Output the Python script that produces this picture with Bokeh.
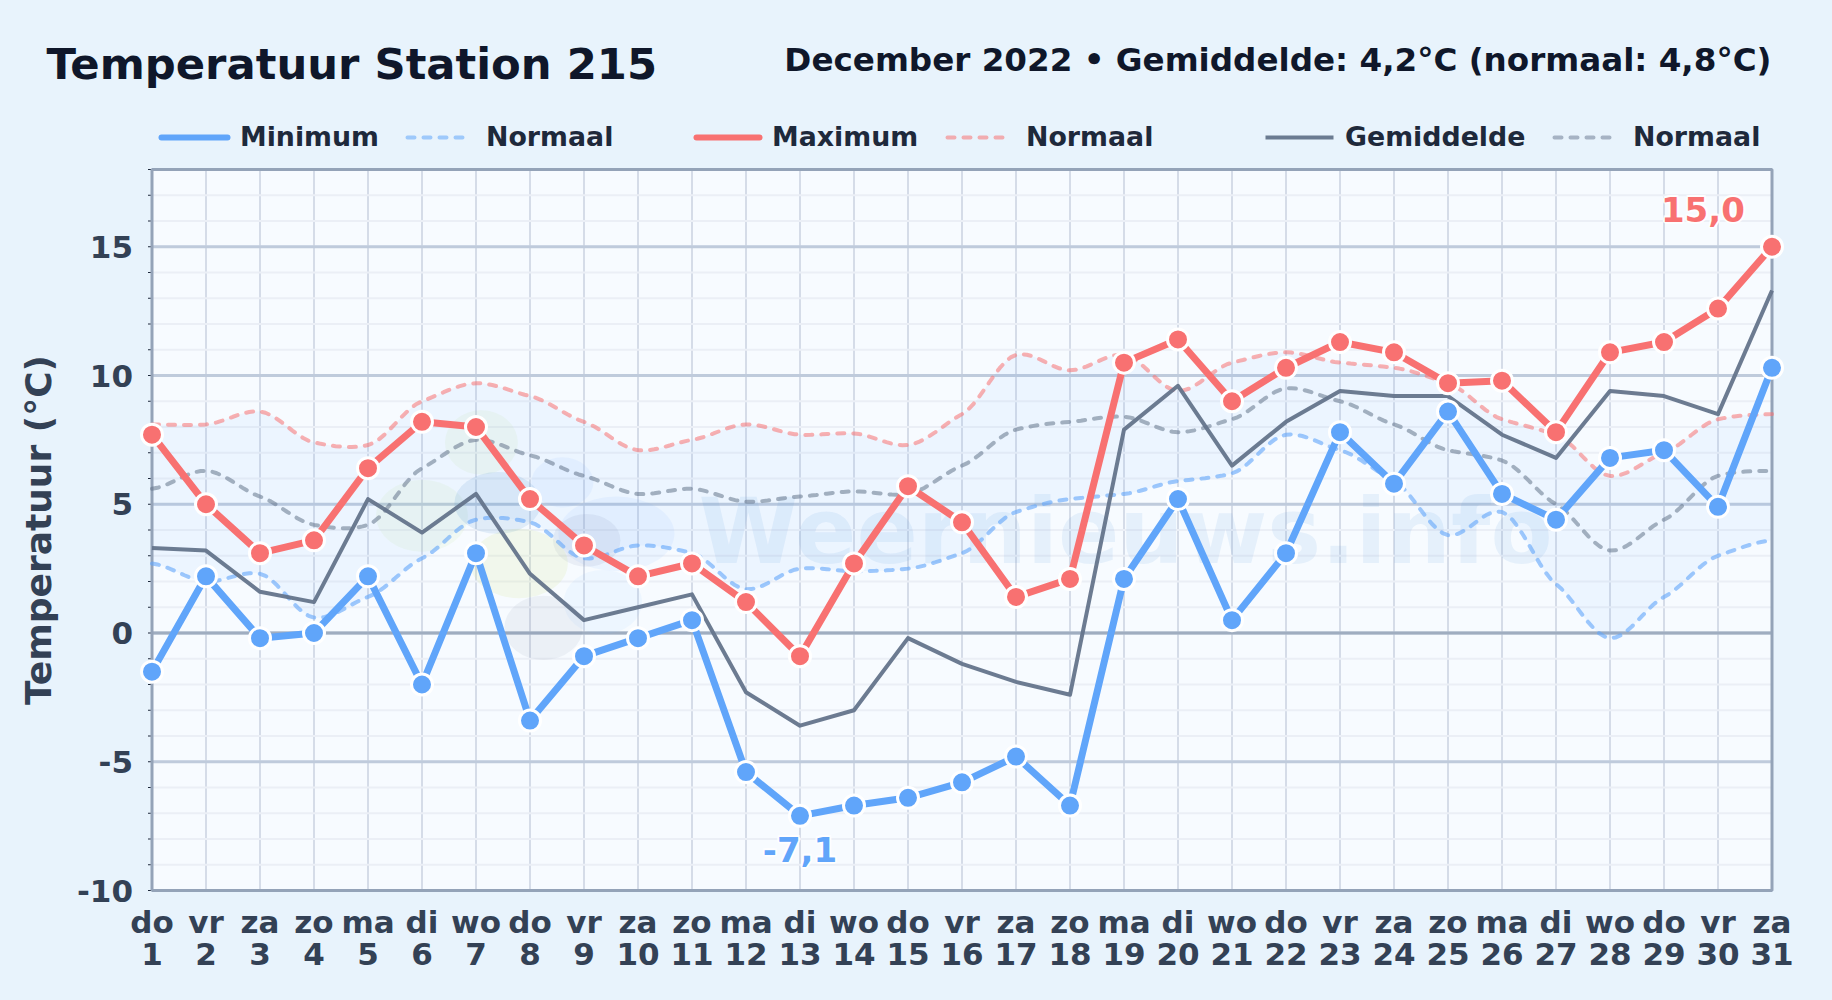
import numpy as np
from bokeh.core.properties import value
from bokeh.models import FixedTicker, LinearAxis, Range1d
from bokeh.plotting import figure
from bokeh.embed import file_html
from bokeh.resources import INLINE

days = list(range(1, 32))
weekdays = ["do","vr","za","zo","ma","di","wo","do","vr","za","zo","ma","di","wo","do","vr","za","zo","ma","di","wo","do","vr","za","zo","ma","di","wo","do","vr","za"]
t_min = [-1.5,2.2,-0.2,0.0,2.2,-2.0,3.1,-3.4,-0.9,-0.2,0.5,-5.4,-7.1,-6.7,-6.4,-5.8,-4.8,-6.7,2.1,5.2,0.5,3.1,7.8,5.8,8.6,5.4,4.4,6.8,7.1,4.9,10.3]
t_max = [7.7,5.0,3.1,3.6,6.4,8.2,8.0,5.2,3.4,2.2,2.7,1.2,-0.9,2.7,5.7,4.3,1.4,2.1,10.5,11.4,9.0,10.3,11.3,10.9,9.7,9.8,7.8,10.9,11.3,12.6,15.0]
t_avg = [3.3,3.2,1.6,1.2,5.2,3.9,5.4,2.3,0.5,1.0,1.5,-2.3,-3.6,-3.0,-0.2,-1.2,-1.9,-2.4,7.9,9.6,6.5,8.2,9.4,9.2,9.2,7.7,6.8,9.4,9.2,8.5,13.3]
n_max = [8.1,8.1,8.6,7.4,7.3,9.0,9.7,9.2,8.2,7.1,7.5,8.1,7.7,7.75,7.3,8.5,10.8,10.2,10.8,9.4,10.5,10.9,10.5,10.3,9.7,8.3,7.7,6.1,7.0,8.3,8.5]
n_avg = [5.6,6.3,5.3,4.2,4.2,6.4,7.5,6.9,6.1,5.4,5.6,5.1,5.3,5.5,5.4,6.5,7.9,8.2,8.4,7.8,8.3,9.5,9.0,8.1,7.1,6.7,5.0,3.2,4.4,6.1,6.3]
n_min = [2.7,2.0,2.3,0.6,1.4,2.9,4.4,4.3,2.9,3.4,3.1,1.7,2.5,2.4,2.5,3.1,4.7,5.2,5.4,5.9,6.2,7.7,7.1,5.9,3.8,4.7,1.9,-0.2,1.4,3.0,3.6]
y_major = [-10,-5,0,5,10,15]
y_minor = list(range(-10, 19))

W, H = 1832, 1000
BG = "#e8f3fc"
FONT = "DejaVu Sans"
C_MIN, C_MAX, C_AVG = "#60a5fa", "#f87171", "#64748b"
X0, X1, Y0, Y1 = 1, 31, -10, 18
PX_LEFT, PX_BOTTOM, PX_PER_DAY, PX_PER_DEG = 151.5, 890, 54, 25.75


def data_x(px):
    return X0 + (px - PX_LEFT) / PX_PER_DAY


def data_y(py):
    return Y0 + (PX_BOTTOM - py) / PX_PER_DEG


def smooth(x, y, n=10, k=0.32):
    """Rendering path of a curved line through the values that were read."""
    x = np.asarray(x, float); y = np.asarray(y, float)
    m = np.array([k * (y[min(i+1, len(y)-1)] - y[max(i-1, 0)]) for i in range(len(y))])
    ox, oy = [], []
    for i in range(len(x) - 1):
        for t in np.linspace(0, 1, n, endpoint=False):
            h00 = 2*t**3 - 3*t**2 + 1; h10 = t**3 - 2*t**2 + t
            h01 = -2*t**3 + 3*t**2;    h11 = t**3 - t**2
            ox.append(x[i] + t)
            oy.append(h00*y[i] + h10*m[i] + h01*y[i+1] + h11*m[i+1])
    ox.append(x[-1]); oy.append(y[-1])
    return np.array(ox), np.array(oy)


# The frame fills the page, so header and axis texts are not clipped by it.
p = figure(width=W, height=H, output_backend="svg", toolbar_location=None,
           x_range=Range1d(data_x(0), data_x(W)), y_range=Range1d(data_y(H), data_y(0)),
           min_border=0, min_border_left=0, min_border_right=0, min_border_top=0, min_border_bottom=0,
           background_fill_color=BG, border_fill_color=BG, outline_line_color=None)
p.grid.visible = False

# weekday and day-number axes, tied to the bottom of the plot body
p.xaxis.ticker = FixedTicker(ticks=days)
p.xaxis.major_label_overrides = {d: w for d, w in zip(days, weekdays)}
p.xaxis.fixed_location = Y0
ax2 = LinearAxis(ticker=FixedTicker(ticks=days), major_label_overrides={d: str(d) for d in days}, fixed_location=Y0)
p.add_layout(ax2, "below")
p.yaxis.ticker = FixedTicker(ticks=y_major)
p.yaxis.major_label_overrides = {v: str(v) for v in y_major}
p.yaxis.fixed_location = X0
for ax in (p.xaxis[0], ax2, p.yaxis[0]):
    ax.major_label_text_font = FONT
    ax.major_label_text_font_style = "bold"
    ax.major_label_text_font_size = "31px"
    ax.major_label_text_color = "#334155"
    ax.axis_line_color = None
    ax.major_tick_line_color = None
    ax.minor_tick_line_color = None
p.xaxis[0].major_label_standoff = 7
ax2.major_label_standoff = 46
p.yaxis.major_label_standoff = 13

# y-axis title, centred on the plot body
p.text([data_x(38)], [(Y0 + Y1) / 2], text=["Temperatuur (°C)"], angle=np.pi / 2, text_font=value(FONT),
       text_font_style="bold", text_font_size="36px", text_color="#334155", text_align="center",
       text_baseline="middle")

# plot body and its grid, limited to the day range
p.quad(left=[X0], right=[X1], bottom=[Y0], top=[Y1], fill_color="#f7fbff", line_color=None, level="image")
p.segment(x0=days, y0=[Y0]*31, x1=days, y1=[Y1]*31, line_color="#d5dce8", line_width=2, level="underlay")
p.segment(x0=[X0]*len(y_minor), y0=y_minor, x1=[X1]*len(y_minor), y1=y_minor,
          line_color="#ebeff6", line_width=2, level="underlay")
p.segment(x0=[X0]*len(y_major), y0=y_major, x1=[X1]*len(y_major), y1=y_major,
          line_color="#bfcbdc", line_width=3, level="underlay")
p.segment(x0=[X0], y0=[0], x1=[X1], y1=[0], line_color="#9fadc0", line_width=3, level="underlay")
p.segment(x0=[X0 - 4/54]*len(y_minor), y0=y_minor, x1=[X0]*len(y_minor), y1=y_minor,
          line_color="#1e293b", line_width=1.2, level="underlay")

# watermark logo and name
wm_x = [7.1, 6.0, 7.4, 8.6, 9.6, 9.05, 7.8, 9.35, 8.25]
wm_y = [7.4, 4.55, 5.05, 5.85, 3.85, 3.6, 2.7, 1.2, 0.2]
wm_w = [1.35, 1.7, 1.6, 1.15, 2.15, 1.25, 1.8, 1.45, 1.45]
wm_h = [2.5, 2.8, 2.4, 1.95, 2.9, 2.05, 2.7, 2.5, 2.5]
wm_c = ["#bfe08a","#bfe08a","#3b82c4","#60a5fa","#60a5fa","#475f8f","#cfe67a","#7cc4fa","#64748b"]
wm_a = [0.10, 0.10, 0.12, 0.08, 0.08, 0.08, 0.14, 0.08, 0.08]
p.ellipse(wm_x, wm_y, width=wm_w, height=wm_h, fill_color=wm_c, fill_alpha=wm_a, line_color=None)
p.text([data_x(698)], [data_y(531)], text=["Weernieuws.info"], text_font=value(FONT), text_font_style="bold",
       text_font_size="90.5px", text_color="#4a90d9", text_alpha=0.10, text_baseline="alphabetic")

# band between the normals
sx, s_nmax = smooth(days, n_max)
_, s_nmin = smooth(days, n_min)
_, s_navg = smooth(days, n_avg)
p.varea(sx, s_nmin, s_nmax, fill_color=C_MIN, fill_alpha=0.07)

# frame of the plot body
p.quad(left=[X0], right=[X1], bottom=[Y0], top=[Y1], fill_alpha=0, line_color="#94a3b8", line_width=3)

# lines and markers
p.line(sx, s_nmin, line_color=C_MIN, line_alpha=0.6, line_width=4, line_dash="7 9", line_cap="round")
p.line(sx, s_nmax, line_color=C_MAX, line_alpha=0.55, line_width=4, line_dash="7 9", line_cap="round")
p.line(sx, s_navg, line_color=C_AVG, line_alpha=0.55, line_width=4, line_dash="7 9", line_cap="round")
p.line(days, t_avg, line_color=C_AVG, line_alpha=0.95, line_width=4, line_join="round")
p.line(days, t_min, line_color=C_MIN, line_width=7, line_cap="round", line_join="round")
p.line(days, t_max, line_color=C_MAX, line_width=7, line_cap="round", line_join="round")
p.scatter(days, t_min, size=21, fill_color=C_MIN, line_color="white", line_width=3)
p.scatter(days, t_max, size=21, fill_color=C_MAX, line_color="white", line_width=3)


# extreme labels, with a white halo
def halo_text(x, y, txt, color):
    kw = dict(text_font=value(FONT), text_font_style="bold", text_font_size="34px",
              text_align="center", text_baseline="middle")
    for dx, dy in [(-2,0),(2,0),(0,-2),(0,2),(-1.5,-1.5),(1.5,1.5),(-1.5,1.5),(1.5,-1.5)]:
        p.text([x], [y], text=[txt], text_color="white", text_alpha=0.8, x_offset=dx, y_offset=dy, **kw)
    p.text([x], [y], text=[txt], text_color=color, **kw)


i_hi = int(np.argmax(t_max)); i_lo = int(np.argmin(t_min))
halo_text(days[i_hi] - 1.28, t_max[i_hi] + 1.45, "15,0", C_MAX)
halo_text(days[i_lo], t_min[i_lo] - 1.3, "-7,1", C_MIN)

# header: title, subtitle, legend
p.text([data_x(46)], [data_y(63.5)], text=["Temperatuur Station 215"], text_font=value(FONT), text_font_style="bold",
       text_font_size="43.3px", text_color="#0f172a", text_baseline="alphabetic")
p.text([data_x(1771)], [data_y(59.5)], text=["December 2022 • Gemiddelde: 4,2°C (normaal: 4,8°C)"], text_font=value(FONT),
       text_font_style="bold", text_font_size="32.6px", text_color="#0f172a", text_align="right",
       text_baseline="alphabetic")
legend_names = ["Minimum", "Normaal", "Maximum", "Normaal", "Gemiddelde", "Normaal"]
legend_text_x = [239.5, 485.5, 771.5, 1025.5, 1344.5, 1632.5]
legend_from = [161, 407, 696, 947, 1265, 1554]
legend_to = [227, 464, 759, 1007, 1333, 1618]
legend_col = [C_MIN, C_MIN, C_MAX, C_MAX, C_AVG, C_AVG]
legend_w = [6, 4, 6, 4, 4, 4]
legend_alpha = [1, .55, 1, .55, .95, .5]
legend_dash = ["solid", "7 9", "solid", "7 9", "solid", "7 9"]
legend_cap = ["round", "round", "round", "round", "butt", "round"]
LEG_Y = 137
for i, name in enumerate(legend_names):
    p.line([data_x(legend_from[i]), data_x(legend_to[i])], [data_y(LEG_Y)]*2, line_color=legend_col[i],
           line_width=legend_w[i], line_alpha=legend_alpha[i], line_dash=legend_dash[i], line_cap=legend_cap[i])
    p.text([data_x(legend_text_x[i])], [data_y(LEG_Y - 1)], text=[name], text_font=value(FONT), text_font_style="bold",
           text_font_size="26.8px", text_color="#1e293b", text_baseline="alphabetic")

html = file_html(p, INLINE)
html = html.replace("<head>", f"<head><style>html,body{{background:{BG};}}</style>", 1)
open("out.html", "w").write(html)
